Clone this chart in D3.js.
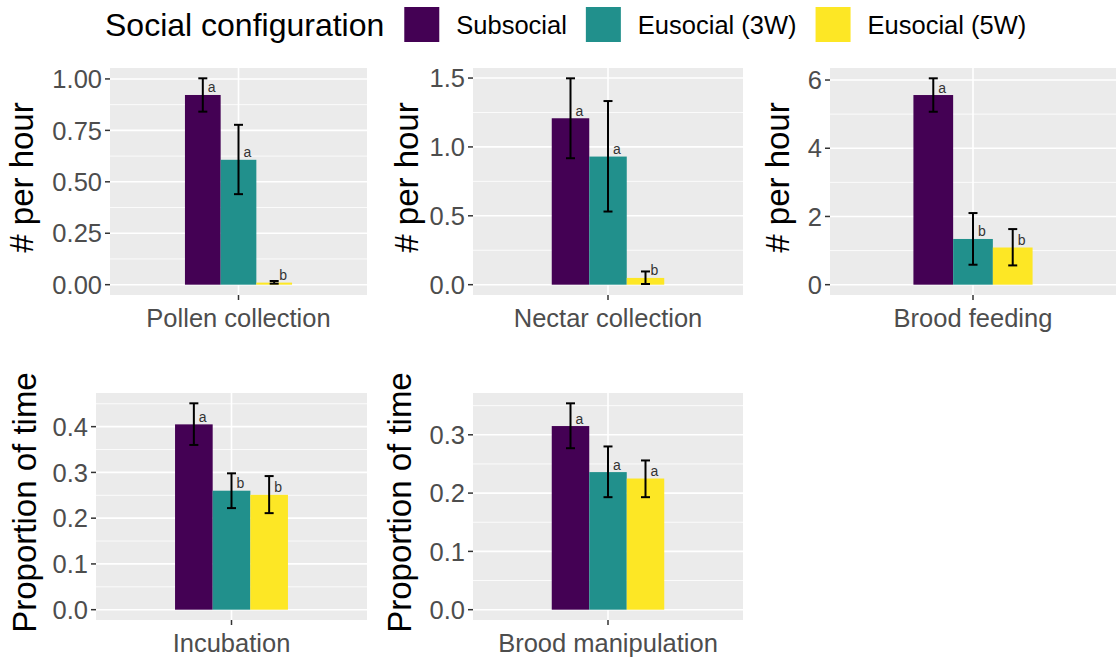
<!DOCTYPE html>
<html>
<head>
<meta charset="utf-8">
<script src="https://cdn.jsdelivr.net/npm/d3@7"></script>
<style>
  html, body { margin: 0; padding: 0; background: #fff; }
  svg { display: block; font-family: "Liberation Sans", Arial, Helvetica, sans-serif; }
</style>
</head>
<body>
<svg id="chart" width="1116" height="659"></svg>
<script>
// ---------------- DATA ----------------
const behaviours = ["Pollen collection", "Nectar collection", "Brood feeding", "Incubation", "Brood manipulation"];
const groups = ["Subsocial", "Eusocial (3W)", "Eusocial (5W)"];
const groupColors = ["#440154", "#21908C", "#FDE725"];
const yTitles = ["# per hour", "# per hour", "# per hour", "Proportion of time", "Proportion of time"];

// means per behaviour, in group order
const pollenMean = [0.922, 0.607, 0.010];
const nectarMean = [1.208, 0.930, 0.049];
const feedingMean = [5.56, 1.34, 1.09];
const incubationMean = [0.405, 0.260, 0.251];
const manipulationMean = [0.315, 0.236, 0.225];

// lower / upper error-bar limits
const pollenLow = [0.841, 0.440, 0.005];
const pollenHigh = [1.003, 0.777, 0.018];
const nectarLow = [0.918, 0.531, 0.005];
const nectarHigh = [1.498, 1.333, 0.096];
const feedingLow = [5.07, 0.585, 0.565];
const feedingHigh = [6.05, 2.10, 1.63];
const incubationLow = [0.360, 0.222, 0.211];
const incubationHigh = [0.451, 0.298, 0.292];
const manipulationLow = [0.277, 0.193, 0.193];
const manipulationHigh = [0.354, 0.280, 0.256];

// significance letters
const pollenLetters = ["a", "a", "b"];
const nectarLetters = ["a", "a", "b"];
const feedingLetters = ["a", "b", "b"];
const incubationLetters = ["a", "b", "b"];
const manipulationLetters = ["a", "a", "a"];

// y tick values and labels
const pollenTicks = [0, 0.25, 0.5, 0.75, 1.0];
const pollenTickLabels = ["0.00", "0.25", "0.50", "0.75", "1.00"];
const nectarTicks = [0, 0.5, 1.0, 1.5];
const nectarTickLabels = ["0.0", "0.5", "1.0", "1.5"];
const feedingTicks = [0, 2, 4, 6];
const feedingTickLabels = ["0", "2", "4", "6"];
const incubationTicks = [0, 0.1, 0.2, 0.3, 0.4];
const incubationTickLabels = ["0.0", "0.1", "0.2", "0.3", "0.4"];
const manipulationTicks = [0, 0.1, 0.2, 0.3];
const manipulationTickLabels = ["0.0", "0.1", "0.2", "0.3"];

// ---------------- ASSEMBLY ----------------
const means = [pollenMean, nectarMean, feedingMean, incubationMean, manipulationMean];
const lows = [pollenLow, nectarLow, feedingLow, incubationLow, manipulationLow];
const highs = [pollenHigh, nectarHigh, feedingHigh, incubationHigh, manipulationHigh];
const letters = [pollenLetters, nectarLetters, feedingLetters, incubationLetters, manipulationLetters];
const ticks = [pollenTicks, nectarTicks, feedingTicks, incubationTicks, manipulationTicks];
const tickLabels = [pollenTickLabels, nectarTickLabels, feedingTickLabels, incubationTickLabels, manipulationTickLabels];

// layout (panel rectangles and y-title baselines)
const panels = [
  {x0: 110, x1: 367, y0: 68, y1: 295, titleX: 33},
  {x0: 473, x1: 743, y0: 68, y1: 295, titleX: 418},
  {x0: 830, x1: 1116, y0: 68, y1: 295, titleX: 789},
  {x0: 96, x1: 367, y0: 393, y1: 620, titleX: 36},
  {x0: 473, x1: 743, y0: 393, y1: 620, titleX: 411}
];

const svg = d3.select("#chart");
const fontSize = 25.5;

behaviours.forEach((beh, i) => {
  const p = panels[i];
  const g = svg.append("g");
  const yMax = d3.max(highs[i]);
  const pad = yMax * 0.05;
  const y = d3.scaleLinear().domain([-pad, yMax + pad]).range([p.y1, p.y0]);
  // discrete x: single category occupying [0.4, 1.6]
  const xc = d3.scaleLinear().domain([0.4, 1.6]).range([p.x0, p.x1]);
  const xb = d3.scaleBand().domain(groups).range([xc(0.75), xc(1.25)]).padding(0);

  // background
  g.append("rect").attr("x", p.x0).attr("y", p.y0)
    .attr("width", p.x1 - p.x0).attr("height", p.y1 - p.y0).attr("fill", "#EBEBEB");

  // minor grid
  const step = ticks[i][1] - ticks[i][0];
  const minor = [];
  for (let k = 0; k < ticks[i].length + 1; k++) {
    const v = ticks[i][0] + step * (k - 0.5);
    if (y(v) <= p.y1 && y(v) >= p.y0) minor.push(v);
  }
  g.selectAll(".minor").data(minor).enter().append("line")
    .attr("x1", p.x0).attr("x2", p.x1)
    .attr("y1", d => y(d)).attr("y2", d => y(d))
    .attr("stroke", "#fff").attr("stroke-width", 0.8);
  // major grid
  g.selectAll(".major").data(ticks[i]).enter().append("line")
    .attr("x1", p.x0).attr("x2", p.x1)
    .attr("y1", d => y(d)).attr("y2", d => y(d))
    .attr("stroke", "#fff").attr("stroke-width", 1.6);
  g.append("line").attr("x1", xc(1)).attr("x2", xc(1)).attr("y1", p.y0).attr("y2", p.y1)
    .attr("stroke", "#fff").attr("stroke-width", 1.6);

  // bars
  g.selectAll(".bar").data(groups).enter().append("rect")
    .attr("x", d => xb(d)).attr("width", xb.bandwidth())
    .attr("y", (d, j) => y(means[i][j]))
    .attr("height", (d, j) => y(0) - y(means[i][j]))
    .attr("fill", (d, j) => groupColors[j]);

  // error bars
  const capHalf = 4.5;
  groups.forEach((grp, j) => {
    const cx = xb(grp) + xb.bandwidth() / 2;
    const eg = g.append("g").attr("stroke", "#000").attr("stroke-width", 2);
    eg.append("line").attr("x1", cx).attr("x2", cx).attr("y1", y(lows[i][j])).attr("y2", y(highs[i][j]));
    eg.append("line").attr("x1", cx - capHalf).attr("x2", cx + capHalf).attr("y1", y(lows[i][j])).attr("y2", y(lows[i][j]));
    eg.append("line").attr("x1", cx - capHalf).attr("x2", cx + capHalf).attr("y1", y(highs[i][j])).attr("y2", y(highs[i][j]));
    g.append("text").attr("x", cx + 5).attr("y", y(means[i][j]) - 2.5)
      .attr("font-size", 14).attr("fill", "#333").text(letters[i][j]);
  });

  // y axis ticks and labels
  const yt = g.selectAll(".yt").data(ticks[i]).enter().append("g");
  yt.append("line").attr("x1", p.x0 - 5).attr("x2", p.x0)
    .attr("y1", d => y(d)).attr("y2", d => y(d)).attr("stroke", "#333").attr("stroke-width", 1.5);
  yt.append("text").attr("x", p.x0 - 8).attr("y", d => y(d)).attr("dy", "0.36em")
    .attr("text-anchor", "end").attr("font-size", fontSize).attr("fill", "#4D4D4D")
    .text((d, k) => tickLabels[i][k]);

  // x axis tick and label
  g.append("line").attr("x1", xc(1)).attr("x2", xc(1)).attr("y1", p.y1).attr("y2", p.y1 + 5)
    .attr("stroke", "#333").attr("stroke-width", 1.5);
  g.append("text").attr("x", xc(1)).attr("y", p.y1 + 31.5).attr("text-anchor", "middle")
    .attr("font-size", fontSize).attr("fill", "#4D4D4D").text(beh);

  // y title
  const cy = (p.y0 + p.y1) / 2 - 4;
  g.append("text").attr("transform", `translate(${p.titleX},${cy}) rotate(-90)`)
    .attr("text-anchor", "middle").attr("font-size", 33).attr("fill", "#000").text(yTitles[i]);
});

// ---------------- LEGEND ----------------
const leg = svg.append("g");
const legTitle = leg.append("text").attr("x", 105).attr("y", 36)
  .attr("font-size", 32).attr("fill", "#000").text("Social configuration");
let lx = 105 + legTitle.node().getComputedTextLength() + 20;
groups.forEach((grp, j) => {
  leg.append("rect").attr("x", lx).attr("y", 7).attr("width", 35).attr("height", 35)
    .attr("fill", groupColors[j]);
  const t = leg.append("text").attr("x", lx + 52).attr("y", 34)
    .attr("font-size", fontSize).attr("fill", "#000").text(grp);
  lx = lx + 52 + t.node().getComputedTextLength() + 19;
});
</script>
</body>
</html>
